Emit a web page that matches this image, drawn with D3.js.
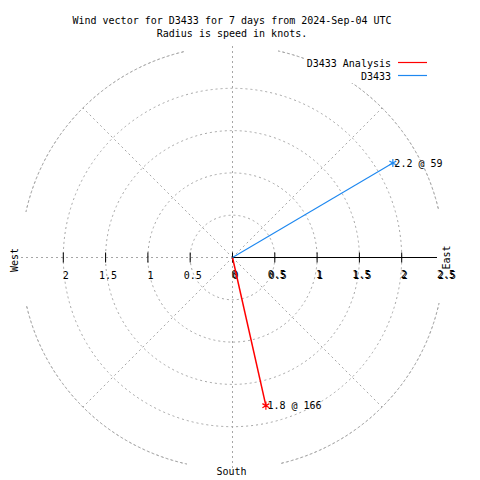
<!DOCTYPE html>
<html><head><meta charset="utf-8">
<script src="https://cdn.jsdelivr.net/npm/d3@7"></script>
<style>
body{margin:0;background:#fff;}
svg{display:block;}
text{font-family:"DejaVu Sans Mono",monospace;font-size:10px;fill:#000;}
</style></head>
<body>
<svg id="c" width="480" height="480"></svg>
<script>
const titleLines = ["Wind vector for D3433 for 7 days from 2024-Sep-04 UTC", "Radius is speed in knots."];
const seriesNames = ["D3433 Analysis", "D3433"];
const seriesColors = ["#ff0000", "#1e88f0"];
// plotted vectors: speed in knots, direction in degrees
const vecSpeed = [1.795, 2.2];
const vecDir = [167.3, 59.5];
// annotation values as printed
const labelSpeed = [1.8, 2.2];
const labelDir = [166, 59];
const ringValues = [0.5, 1, 1.5, 2];
const outerRing = 2.5;
const tickValues = [0, 0.5, 1, 1.5, 2, 2.5];
const tickLabels = ["0", "0.5", "1", "1.5", "2", "2.5"];
const compass = ["West", "East", "South"];

const svg = d3.select("#c");
const cx = 232.5, cy = 257.5;
const r = d3.scaleLinear().domain([0, 2.5]).range([0, 211.5]);
const g = svg.append("g").attr("transform", `translate(${cx},${cy})`);
const grid = "#a6a6a6";
const dash = "2,3";
const rad = d => d * Math.PI / 180;
const px = (s, d) => r(s) * Math.sin(rad(d));
const py = (s, d) => -r(s) * Math.cos(rad(d));

// rings
g.selectAll("circle.ring").data(ringValues).join("circle")
  .attr("r", d => r(d)).attr("fill", "none").attr("stroke", grid)
  .attr("stroke-dasharray", dash);
// outer partial arcs
const arc = d3.arc().innerRadius(r(outerRing)).outerRadius(r(outerRing));
[0, 90, 180, 270].forEach(q => {
  g.append("path").attr("d", arc({startAngle: rad(q + 12.5), endAngle: rad(q + 77)}))
    .attr("fill", "none").attr("stroke", grid).attr("stroke-dasharray", dash);
});
// diagonal spokes
[45, 135, 225, 315].forEach(a => {
  g.append("line").attr("x1", 0).attr("y1", 0)
    .attr("x2", px(outerRing, a)).attr("y2", py(outerRing, a))
    .attr("stroke", grid).attr("stroke-dasharray", dash);
});
// vertical dashed + west dashed
g.append("line").attr("x1", 0).attr("y1", -r(outerRing)).attr("x2", 0).attr("y2", r(outerRing))
  .attr("stroke", grid).attr("stroke-dasharray", dash);
g.append("line").attr("x1", -r(outerRing)).attr("y1", 0).attr("x2", 0).attr("y2", 0)
  .attr("stroke", grid).attr("stroke-dasharray", dash);

// east solid axis
g.append("line").attr("x1", 0).attr("y1", 0).attr("x2", r(outerRing) - 7).attr("y2", 0)
  .attr("stroke", "#000");
// ticks
const tk = tickValues.filter(v => v < 2.5);
g.selectAll("line.te").data(tk).join("line")
  .attr("x1", d => r(d)).attr("x2", d => r(d)).attr("y1", -5).attr("y2", 5).attr("stroke", "#000");
g.selectAll("line.tw").data(tk.filter(v => v > 0)).join("line")
  .attr("x1", d => -r(d)).attr("x2", d => -r(d)).attr("y1", -5).attr("y2", 5).attr("stroke", "#000");
// tick labels east (double printed, slightly offset)
[[2, 20], [3, 21.5]].forEach(([dx, dy]) => {
  g.selectAll(null).data(tickValues).join("text")
    .attr("x", d => r(d) + dx).attr("y", dy).attr("text-anchor", "middle")
    .text((d, i) => tickLabels[i]);
});
// west labels
g.selectAll(null).data(tickValues.filter(v => v > 0 && v < 2.5)).join("text")
  .attr("x", d => -r(d) + 2.5).attr("y", 21.5).attr("text-anchor", "middle")
  .text(d => tickLabels[tickValues.indexOf(d)]);

// compass labels
svg.append("text").attr("transform", "translate(17.5,260) rotate(-90)").attr("text-anchor", "middle").text(compass[0]);
svg.append("text").attr("transform", "translate(450,257.5) rotate(-90)").attr("text-anchor", "middle").text(compass[1]);
svg.append("text").attr("x", 231.5).attr("y", 475).attr("text-anchor", "middle").text(compass[2]);

// vectors
const star = d3.symbol().type(d3.symbolAsterisk).size(45);
vecSpeed.forEach((s, i) => {
  const x = px(s, vecDir[i]), y = py(s, vecDir[i]);
  g.append("line").attr("x1", 0).attr("y1", 0).attr("x2", x).attr("y2", y)
    .attr("stroke", seriesColors[i]).attr("stroke-width", i === 0 ? 1.5 : 1.1);
  g.append("path").attr("d", star()).attr("transform", `translate(${x},${y})`)
    .attr("stroke", seriesColors[i]).attr("stroke-width", 1.2).attr("fill", "none");
  g.append("text").attr("x", x + 1.5).attr("y", y + 3.5)
    .text(`${labelSpeed[i]} @ ${labelDir[i]}`);
});

// title
svg.selectAll("text.title").data(titleLines).join("text")
  .attr("x", 232).attr("y", (d, i) => 24 + i * 12.5).attr("text-anchor", "middle").text(d => d);

// legend
const lg = svg.append("g");
lg.append("rect").attr("x", 304).attr("y", 56).attr("width", 126).attr("height", 27).attr("fill", "#fff");
seriesNames.forEach((n, i) => {
  lg.append("text").attr("x", 391).attr("y", 67 + i * 13).attr("text-anchor", "end").text(n);
  lg.append("line").attr("x1", 398).attr("x2", 427).attr("y1", 62.5 + i * 13).attr("y2", 62.5 + i * 13)
    .attr("stroke", seriesColors[i]).attr("stroke-width", 1.2);
});
</script>
</body></html>
